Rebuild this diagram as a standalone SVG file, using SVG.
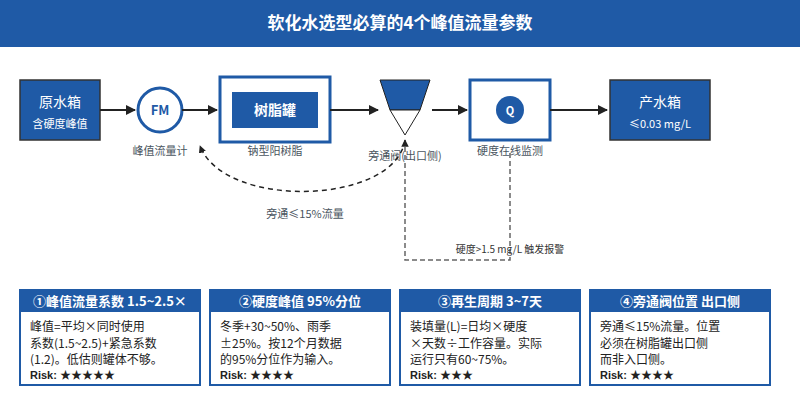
<svg xmlns="http://www.w3.org/2000/svg" width="800" height="400" viewBox="0 0 800 400">
<style>
text{font-family:"Noto Sans CJK SC","Noto Sans",sans-serif}
.blue{fill:#1f5aa6}
.lbl{font-size:11px;fill:#4a5560;text-anchor:middle}
.wt{fill:#fff;text-anchor:middle}
.card{fill:#fff;stroke:#1f5aa6;stroke-width:2}
.ch{font-size:13px;font-weight:bold;fill:#fff;text-anchor:middle}
.cb{font-size:12px;fill:#222}
.risk{font-size:11px;font-weight:bold;fill:#222;font-family:"Liberation Sans","Noto Sans CJK SC",sans-serif}
.ln{stroke:#222;stroke-width:2;fill:none}
</style>
<defs>
<marker id="ah" viewBox="0 0 10 10" refX="9" refY="5" markerWidth="5" markerHeight="5" orient="auto"><path d="M0,0L10,5L0,10z" fill="#222"/></marker>
</defs>
<rect width="800" height="400" fill="#fff"/>
<rect x="0" y="0" width="800" height="47" class="blue"/>
<text x="400" y="29" class="wt" font-size="17" font-weight="bold">软化水选型必算的4个峰值流量参数</text>
<g id="src"><rect x="20" y="80" width="80" height="60" class="blue" stroke="#333" stroke-width="1.5"/><text x="60" y="107" class="wt" font-size="14">原水箱</text><text x="60" y="128" class="wt" font-size="11">含硬度峰值</text></g>
<g id="fm"><circle cx="160" cy="110" r="22" fill="#fff" stroke="#1f5aa6" stroke-width="3"/><text x="160" y="115" font-size="13" font-weight="bold" fill="#1f5aa6" text-anchor="middle">FM</text><text x="160" y="155" class="lbl">峰值流量计</text></g>
<g id="tank"><rect x="220" y="77" width="110" height="65" fill="#fff" stroke="#1f5aa6" stroke-width="3"/><rect x="232" y="92" width="86" height="36" class="blue"/><text x="275" y="115" class="wt" font-size="14" font-weight="bold">树脂罐</text><text x="275" y="155" class="lbl">钠型阳树脂</text></g>
<g id="valve"><polygon points="380,80 430,80 420,110 390,110" class="blue" stroke="#222" stroke-width="1"/><polygon points="390,110 420,110 405,135" fill="#fff" stroke="#222" stroke-width="1"/><text x="405" y="160" class="lbl">旁通阀(出口侧)</text></g>
<g id="mon"><rect x="470" y="80" width="80" height="60" fill="#fff" stroke="#1f5aa6" stroke-width="3"/><circle cx="510" cy="110" r="14" class="blue"/><text x="510" y="115" class="wt" font-size="11" font-weight="bold">Q</text><text x="510" y="155" class="lbl">硬度在线监测</text></g>
<g id="out"><rect x="610" y="80" width="100" height="60" class="blue" stroke="#333" stroke-width="1.5"/><text x="660" y="107" class="wt" font-size="14">产水箱</text><text x="660" y="128" class="wt" font-size="11">≤0.03 mg/L</text></g>
<g id="connectors">
<line x1="100" y1="110" x2="135" y2="110" class="ln" marker-end="url(#ah)"/>
<line x1="182" y1="110" x2="217" y2="110" class="ln" marker-end="url(#ah)"/>
<line x1="330" y1="110" x2="378" y2="110" class="ln" marker-end="url(#ah)"/>
<line x1="432" y1="110" x2="467" y2="110" class="ln" marker-end="url(#ah)"/>
<line x1="550" y1="110" x2="607" y2="110" class="ln" marker-end="url(#ah)"/>
<path d="M405,140 C395,205 225,210 200,146" fill="none" stroke="#222" stroke-width="1.5" stroke-dasharray="5,4" marker-end="url(#ah)"/>
<text x="305" y="218" class="lbl" font-size="10">旁通≤15%流量</text>
<path d="M510,153 L510,260 L405,260 L405,140" fill="none" stroke="#666" stroke-width="1.5" stroke-dasharray="5,3" marker-end="url(#ah)"/>
<text x="510" y="253" font-size="10" fill="#333" text-anchor="middle">硬度&gt;1.5 mg/L 触发报警</text>
</g>
<g id="c1"><rect x="20" y="290" width="180" height="95" class="card"/><rect x="20" y="290" width="180" height="22" class="blue"/><text x="110" y="306" class="ch">①峰值流量系数 1.5~2.5×</text><text x="30" y="331" class="cb">峰值=平均×同时使用</text><text x="30" y="348" class="cb">系数(1.5~2.5)+紧急系数</text><text x="30" y="364" class="cb">(1.2)。低估则罐体不够。</text><text x="30" y="379" class="risk">Risk: ★★★★★</text></g>
<g id="c2"><rect x="210" y="290" width="180" height="95" class="card"/><rect x="210" y="290" width="180" height="22" class="blue"/><text x="300" y="306" class="ch">②硬度峰值 95%分位</text><text x="220" y="331" class="cb">冬季+30~50%、雨季</text><text x="220" y="348" class="cb">±25%。按12个月数据</text><text x="220" y="364" class="cb">的95%分位作为输入。</text><text x="220" y="379" class="risk">Risk: ★★★★</text></g>
<g id="c3"><rect x="400" y="290" width="180" height="95" class="card"/><rect x="400" y="290" width="180" height="22" class="blue"/><text x="490" y="306" class="ch">③再生周期 3~7天</text><text x="410" y="331" class="cb">装填量(L)=日均×硬度</text><text x="410" y="348" class="cb">×天数÷工作容量。实际</text><text x="410" y="364" class="cb">运行只有60~75%。</text><text x="410" y="379" class="risk">Risk: ★★★</text></g>
<g id="c4"><rect x="590" y="290" width="180" height="95" class="card"/><rect x="590" y="290" width="180" height="22" class="blue"/><text x="680" y="306" class="ch">④旁通阀位置 出口侧</text><text x="600" y="331" class="cb">旁通≤15%流量。位置</text><text x="600" y="348" class="cb">必须在树脂罐出口侧</text><text x="600" y="364" class="cb">而非入口侧。</text><text x="600" y="379" class="risk">Risk: ★★★★</text></g>
</svg>
